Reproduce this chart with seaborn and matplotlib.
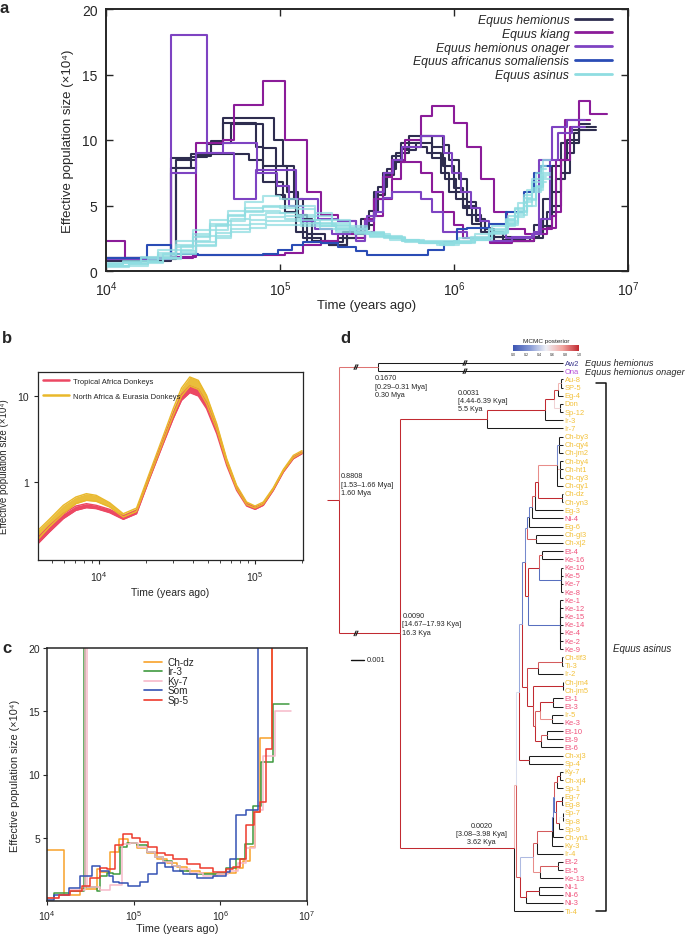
import numpy as np
import pandas as pd
import seaborn as sns
import matplotlib
matplotlib.use("Agg")
import matplotlib.pyplot as plt
from matplotlib.lines import Line2D
from matplotlib.collections import LineCollection
from matplotlib.colors import LinearSegmentedColormap, Normalize
from matplotlib.cm import ScalarMappable
from matplotlib.ticker import LogLocator, NullLocator, NullFormatter

# ---------------- Panel a data (log10 years ago; last time = end of line) ----------------
HEMIONUS_T = [
    [4.0, 4.376, 4.491, 4.606, 4.67, 4.964, 5.015, 5.079, 5.13, 5.182, 5.284, 5.386, 5.488, 5.54, 5.591, 5.642, 5.693, 5.808, 5.936, 5.974, 6.026, 6.077, 6.128, 6.179, 6.23, 6.333, 6.46, 6.512, 6.563, 6.614, 6.652, 6.716, 6.818],
    [4.0, 4.402, 4.517, 4.67, 4.824, 4.9, 4.977, 5.028, 5.092, 5.156, 5.284, 5.386, 5.488, 5.54, 5.591, 5.642, 5.693, 5.744, 5.872, 5.936, 6.0, 6.051, 6.128, 6.179, 6.281, 6.409, 6.486, 6.537, 6.588, 6.639, 6.691, 6.716, 6.78],
    [4.0, 4.376, 4.491, 4.581, 4.67, 4.862, 4.9, 4.977, 5.015, 5.092, 5.13, 5.233, 5.335, 5.437, 5.512, 5.566, 5.617, 5.668, 5.744, 5.847, 5.923, 5.974, 6.051, 6.102, 6.153, 6.23, 6.384, 6.46, 6.512, 6.563, 6.614, 6.665, 6.78],
    [4.0, 4.402, 4.517, 4.606, 4.721, 4.9, 4.977, 5.04, 5.105, 5.156, 5.258, 5.36, 5.463, 5.54, 5.604, 5.655, 5.719, 5.783, 5.872, 5.949, 6.013, 6.077, 6.153, 6.205, 6.307, 6.435, 6.512, 6.563, 6.614, 6.665, 6.716, 6.818],
]
HEMIONUS_NE = [
    [1.0, 8.6, 8.9, 9.9, 11.7, 10.0, 8.0, 5.5, 4.0, 2.3, 2.0, 2.8, 3.5, 5.5, 7.2, 8.8, 9.8, 10.3, 9.6, 8.5, 7.0, 5.3, 4.0, 3.2, 2.6, 2.3, 2.8, 4.0, 6.0, 8.5, 10.0, 11.0],
    [0.9, 7.9, 8.9, 8.9, 8.5, 6.8, 5.8, 4.5, 3.0, 2.2, 2.0, 2.5, 4.0, 6.0, 7.5, 8.5, 9.3, 10.3, 9.5, 8.0, 6.3, 5.0, 3.8, 3.0, 2.4, 2.6, 3.2, 4.5, 7.0, 9.0, 10.5, 11.2],
    [0.8, 7.9, 8.7, 9.7, 11.3, 9.5, 8.0, 6.8, 5.5, 4.1, 2.5, 2.1, 2.5, 3.2, 4.6, 6.4, 7.8, 9.0, 9.5, 9.0, 7.5, 6.0, 4.8, 3.6, 3.0, 2.3, 2.3, 3.5, 5.5, 8.0, 9.8, 10.8],
    [1.0, 8.5, 8.8, 9.8, 11.2, 9.4, 8.0, 6.0, 4.3, 2.8, 2.2, 3.0, 4.0, 5.8, 7.3, 8.3, 9.2, 9.8, 8.6, 7.0, 5.5, 4.3, 3.3, 2.6, 2.3, 2.5, 3.4, 5.0, 7.5, 9.8, 10.8],
]
KIANG_T = [
    [4.0, 4.107, 4.376, 4.517, 4.67, 4.734, 4.9, 5.028, 5.156, 5.233, 5.335, 5.437, 5.488, 5.54, 5.591, 5.642, 5.719, 5.808, 5.872, 6.0, 6.077, 6.153, 6.23, 6.307, 6.409, 6.486, 6.563, 6.588, 6.639, 6.716, 6.78, 6.882],
    [4.0, 4.376, 4.5, 4.734, 4.964, 5.028, 5.13, 5.233, 5.335, 5.437, 5.54, 5.591, 5.642, 5.693, 5.808, 5.872, 5.936, 6.0, 6.051, 6.205, 6.333, 6.46, 6.537, 6.588, 6.614, 6.665, 6.716, 6.78],
]
KIANG_NE = [
    [2.3, 1.0, 1.1, 9.8, 10.0, 12.7, 14.5, 10.0, 6.0, 4.3, 3.8, 2.5, 4.0, 5.5, 7.2, 8.5, 10.0, 11.8, 12.6, 11.3, 9.5, 7.0, 4.5, 3.2, 2.8, 3.2, 4.2, 8.5, 11.5, 13.0, 12.0],
    [0.9, 1.0, 1.2, 1.25, 1.2, 1.4, 2.0, 2.3, 2.8, 3.0, 4.2, 5.5, 7.0, 8.3, 7.5, 6.0, 4.5, 3.5, 2.5, 2.1, 2.3, 2.8, 3.3, 4.5, 8.5, 11.0, 11.5],
]
ONAGER_T = [
    [4.0, 4.376, 4.581, 4.734, 4.862, 5.092, 5.22, 5.335, 5.437, 5.488, 5.54, 5.591, 5.642, 5.808, 5.872, 5.936, 6.077, 6.205, 6.333, 6.46, 6.486, 6.563, 6.652, 6.75],
    [4.0, 4.376, 4.517, 4.67, 4.87, 4.98, 5.05, 5.13, 5.2, 5.3, 5.4, 5.5, 5.55, 5.6, 5.65, 5.7, 5.81, 5.94, 5.99, 6.04, 6.1, 6.15, 6.2, 6.3, 6.45, 6.5, 6.55, 6.6, 6.68, 6.75],
]
ONAGER_NE = [
    [1.0, 18.0, 9.0, 5.5, 7.7, 5.5, 4.0, 3.8, 2.3, 3.8, 4.5, 5.6, 6.0, 5.5, 4.5, 3.0, 2.5, 2.3, 2.6, 3.0, 8.5, 11.0, 11.5],
    [0.9, 7.5, 9.0, 9.8, 7.5, 6.5, 5.0, 3.8, 3.2, 2.8, 3.2, 4.2, 6.0, 7.5, 8.5, 9.5, 10.3, 9.0, 7.5, 6.0, 4.8, 3.8, 2.9, 2.5, 2.8, 4.0, 8.5, 10.5, 11.0],
]
SOMALI_T = [[4.0, 4.107, 4.235, 4.376, 4.53, 4.9, 4.99, 5.07, 5.13, 5.233, 5.335, 5.437, 5.5, 5.693, 5.85, 5.94, 6.02, 6.077, 6.2, 6.3, 6.4, 6.46, 6.5, 6.56]]
SOMALI_NE = [[1.0, 1.0, 2.0, 1.3, 1.25, 1.3, 1.6, 2.0, 2.2, 2.1, 1.8, 1.5, 1.2, 1.2, 1.6, 2.2, 3.2, 3.3, 3.6, 4.5, 6.0, 7.5, 8.0]]
ASINUS_GRID_1 = [4.0, 4.1, 4.2, 4.3, 4.4, 4.5, 4.6, 4.7, 4.8, 4.9, 5.0, 5.1, 5.2, 5.3, 5.4, 5.5, 5.6, 5.7, 5.8, 5.9, 6.0, 6.1, 6.2, 6.3, 6.35, 6.4, 6.45, 6.5, 6.53]
ASINUS_GRID_2 = [4.0, 4.13, 4.24, 4.33, 4.43, 4.52, 4.63, 4.72, 4.83, 4.92, 5.03, 5.12, 5.23, 5.32, 5.43, 5.52, 5.63, 5.72, 5.83, 5.92, 6.03, 6.12, 6.22, 6.31, 6.37, 6.42, 6.47, 6.51, 6.55]
ASINUS_NE = [
    [0.5, 0.6, 0.8, 1.2, 1.8, 2.6, 3.4, 4.2, 4.8, 5.0, 4.8, 4.3, 3.9, 3.5, 3.2, 2.9, 2.6, 2.4, 2.2, 2.2, 2.3, 2.6, 3.2, 4.0, 4.8, 5.8, 7.0, 8.0],
    [0.4, 0.5, 0.7, 1.0, 1.5, 2.2, 2.9, 3.5, 3.9, 4.1, 4.0, 3.7, 3.4, 3.1, 2.9, 2.7, 2.5, 2.3, 2.1, 2.1, 2.2, 2.5, 3.0, 3.7, 4.5, 5.5, 6.5, 7.5],
    [0.6, 0.8, 1.1, 1.6, 2.3, 3.1, 3.9, 4.6, 5.3, 5.7, 5.5, 5.0, 4.4, 3.9, 3.4, 3.0, 2.7, 2.4, 2.2, 2.1, 2.2, 2.4, 2.9, 3.6, 4.4, 5.3, 6.3, 7.2],
    [0.3, 0.4, 0.6, 0.9, 1.3, 1.9, 2.5, 3.0, 3.3, 3.5, 3.5, 3.4, 3.2, 3.0, 2.8, 2.6, 2.4, 2.2, 2.1, 2.0, 2.1, 2.4, 2.9, 3.5, 4.3, 5.0, 6.2, 7.0],
    [0.5, 0.7, 1.0, 1.4, 2.0, 2.8, 3.6, 4.3, 4.6, 4.6, 4.4, 4.1, 3.7, 3.4, 3.1, 2.8, 2.5, 2.3, 2.1, 2.0, 2.1, 2.4, 2.8, 3.4, 4.1, 5.0, 6.0, 6.8],
    [0.4, 0.6, 0.9, 1.3, 1.9, 2.7, 3.5, 4.0, 4.3, 4.4, 4.2, 3.9, 3.6, 3.3, 3.0, 2.8, 2.6, 2.4, 2.3, 2.3, 2.5, 2.8, 3.4, 4.2, 5.2, 6.2, 7.5, 8.5],
    [0.5, 0.6, 0.8, 1.1, 1.6, 2.3, 3.1, 3.8, 4.5, 4.9, 5.0, 4.7, 4.2, 3.7, 3.3, 2.9, 2.6, 2.3, 2.1, 2.1, 2.2, 2.5, 3.1, 3.9, 4.7, 5.6, 6.8, 7.8],
    [0.4, 0.5, 0.7, 1.0, 1.4, 2.0, 2.7, 3.2, 3.6, 3.8, 3.8, 3.6, 3.4, 3.2, 3.0, 2.7, 2.5, 2.3, 2.2, 2.1, 2.2, 2.5, 3.0, 3.8, 4.6, 5.4, 6.4, 7.3],
]
SPECIES = ["Equus hemionus", "Equus kiang", "Equus hemionus onager",
           "Equus africanus somaliensis", "Equus asinus"]
SPECIES_COLORS = ["#2e2d4f", "#8b1c99", "#7e43c2", "#2a4cb5", "#8fdde1"]

# ---------------- Panel b data (years ago, Ne x10^4) ----------------
B_TIME = [4000, 4800, 5900, 7100, 8300, 9600, 11700, 14300, 17400, 21100, 25800, 29900, 33800,
          38200, 43300, 48900, 56800, 65800, 76200, 88300, 100000, 113000, 131000, 152000, 176000, 200000]
TROP_LO = [0.187, 0.262, 0.375, 0.468, 0.503, 0.490, 0.440, 0.368, 0.428, 1.093, 2.79, 5.45, 8.91,
           10.94, 10.0, 7.12, 3.65, 1.56, 0.800, 0.526, 0.481, 0.536, 0.800, 1.307, 1.867, 2.135]
TROP_HI = [0.219, 0.308, 0.428, 0.526, 0.560, 0.536, 0.481, 0.402, 0.468, 1.195, 3.13, 6.23, 10.36,
           13.07, 11.95, 8.37, 4.17, 1.74, 0.875, 0.560, 0.507, 0.560, 0.837, 1.367, 1.953, 2.233]
NAE_LO = [0.210, 0.300, 0.428, 0.560, 0.612, 0.596, 0.512, 0.392, 0.456, 1.143, 2.97, 5.96, 10.0,
          13.07, 11.95, 8.15, 4.10, 1.68, 0.837, 0.545, 0.498, 0.555, 0.822, 1.342, 1.919, 2.193]
NAE_HI = [0.267, 0.368, 0.536, 0.669, 0.732, 0.700, 0.575, 0.428, 0.498, 1.284, 3.43, 7.12, 12.39,
          16.63, 15.21, 10.18, 4.77, 1.87, 0.915, 0.586, 0.526, 0.586, 0.859, 1.404, 2.042, 2.314]
B_LABELS = ["Tropical Africa Donkeys", "North Africa & Eurasia Donkeys"]
B_COLORS = ["#ec4863", "#e9b82a"]

# ---------------- Panel c data (log10 years ago; last time = end) ----------------
C_NAMES = ["Ch-dz", "Ir-3", "Ky-7", "Som", "Sp-5"]
C_COLORS = ["#f8a22a", "#3f9a3f", "#f6b9c9", "#3452b4", "#ee3a2c"]
C_T = [
    [4.0, 4.199, 4.384, 4.575, 4.614, 4.729, 4.825, 4.94, 5.036, 5.151, 5.266, 5.381, 5.496, 5.611, 5.764, 5.918, 6.071, 6.186, 6.263, 6.34, 6.397, 6.463, 6.601, 6.64],
    [4.0, 4.077, 4.269, 4.422, 4.441, 4.575, 4.614, 4.69, 4.767, 4.844, 4.921, 5.036, 5.151, 5.247, 5.343, 5.438, 5.534, 5.649, 5.803, 5.956, 6.071, 6.186, 6.282, 6.378, 6.474, 6.608, 6.792],
    [4.0, 4.134, 4.269, 4.441, 4.46, 4.614, 4.729, 4.863, 4.959, 5.055, 5.151, 5.247, 5.343, 5.438, 5.534, 5.649, 5.803, 5.956, 6.09, 6.205, 6.301, 6.397, 6.493, 6.628, 6.819],
    [4.0, 4.077, 4.249, 4.384, 4.518, 4.614, 4.71, 4.767, 4.825, 4.94, 5.074, 5.17, 5.266, 5.362, 5.458, 5.573, 5.726, 5.918, 6.071, 6.11, 6.186, 6.301, 6.436, 6.6],
    [4.0, 4.134, 4.269, 4.403, 4.499, 4.614, 4.69, 4.786, 4.882, 4.978, 5.074, 5.17, 5.266, 5.362, 5.458, 5.611, 5.764, 5.918, 6.071, 6.148, 6.225, 6.301, 6.386, 6.455, 6.532, 6.601, 6.7],
]
C_NE = [
    [4.05, 0.47, 0.95, 2.5, 2.3, 3.9, 4.9, 4.6, 4.2, 3.8, 3.3, 3.0, 2.7, 2.4, 2.2, 2.1, 2.2, 2.6, 3.2, 4.3, 7.0, 12.9, 25.0],
    [0.2, 0.6, 0.8, 60.0, 1.1, 0.8, 2.0, 2.2, 2.1, 4.3, 4.6, 4.4, 3.9, 3.5, 3.2, 2.8, 2.4, 2.1, 2.1, 2.2, 2.6, 3.3, 4.5, 7.5, 11.0, 15.6],
    [0.2, 0.5, 0.9, 60.0, 1.1, 0.9, 1.3, 4.5, 4.6, 4.3, 3.9, 3.5, 3.1, 2.8, 2.5, 2.2, 2.0, 2.1, 2.4, 3.0, 4.2, 7.2, 11.5, 15.0],
    [0.1, 0.5, 1.0, 2.0, 2.8, 2.4, 2.0, 1.5, 1.4, 1.2, 1.5, 2.1, 3.0, 2.7, 2.4, 2.1, 1.8, 2.0, 2.3, 3.3, 6.8, 7.2, 60.0],
    [0.2, 0.5, 0.8, 1.2, 1.8, 2.6, 2.5, 4.4, 5.3, 5.0, 4.7, 4.3, 3.8, 3.6, 3.3, 2.9, 2.6, 2.3, 2.5, 2.7, 3.3, 6.0, 7.0, 7.8, 12.0, 60.0],
]

# ---------------- Panel d data: tree (node = (x, posterior, children[, name])) ----------------
TIP_X = 563
TREE = (339, 1.0, [
    (378, 0.85, ["Aw2", "Ona"], "hem"),
    (400, 1.0, [
        (487, 1.0, [
            (545, 1.0, [
                (554, 1.0, [
                    (558, 0.95, [(561, 0.7, ["Au-8", "SP-5"]), "Eg-4"]),
                    (560, 0.6, ["Don", "Sp-12"])]),
                "Ir-3"]),
            "Ir-7"], "n1"),
        (514, 1.0, [
            (516, 0.7, [
                (519, 0.45, [
                    (522, 0.3, [
                        (525, 0.15, [
                            (527, 0.2, [
                                (529, 0.1, [
                                    (532, 0.15, [
                                        (535, 0.9, [
                                            (538, 1.0, [
                                                (557, 0.8, [(559, 0.2, ["Ch-by3", "Ch-qy4", "Ch-jm2"]),
                                                            (560, 0.7, ["Ch-by4", "Ch-ht1", "Ch-qy3"]), "Ch-qy1"]),
                                                (562, 1.0, ["Ch-dz", "Ch-yn3"])]),
                                            "Eg-3"]),
                                        "Ni-4"]),
                                    "Eg-6"]),
                                (536, 0.9, ["Ch-gl3", "Ch-xj2"])]),
                            (528, 1.0, [
                                (539, 1.0, [(542, 0.9, ["Et-4", "Ke-16"]),
                                            (561, 0.1, ["Ke-10", "Ke-5", "Ke-7", "Ke-8"])]),
                                (560, 0.1, ["Ke-1", "Ke-12", "Ke-15", "Ke-14", "Ke-4", "Ke-2", "Ke-9"])])]),
                        (527, 1.0, [
                            (538, 0.95, [(562, 0.9, ["Ch-tlf3", "Ti-3"]), "Ir-2"]),
                            (533, 1.0, [
                                (563, 1.0, ["Ch-jm4", "Ch-jm5"]),
                                (535, 0.95, [
                                    (540, 0.9, [(553, 1.0, ["Et-1", "Et-3"]), (552, 0.8, ["Ir-5", "Ke-3"])]),
                                    (541, 1.0, [(547, 0.9, ["Et-10", "Et-9"]), "Et-6"])])])])]),
                    (529, 1.0, ["Ch-xj3", "Sp-4"])]),
                (520, 0.9, [
                    (533, 0.35, [
                        (537, 0.9, [
                            (552, 0.9, [
                                (553, 0.1, [
                                    (554, 0.15, [
                                        (557, 0.9, [(560, 1.0, ["Ky-7", "Ch-xj4"]), "Sp-1"]),
                                        (556, 0.1, [(562, 1.0, ["Eg-7", "Eg-8"]),
                                                    (559, 0.95, [(563, 0.5, ["Sp-7", "Sp-8"]), "Sp-9"])])]),
                                    "Ch-yn1"]),
                                "Ky-3"]),
                            "Ir-4"]),
                        (540, 0.8, [(558, 0.9, ["Et-2", "Et-5"]), "Ke-13"])]),
                    (526, 1.0, [(539, 1.0, ["Ni-1", "Ni-6"]), "Ni-3"])])]),
            "Ti-4"], "n2")], "asi")], "root")
PINK_TAXA = ["Ni-4", "Et-4", "Ke-16", "Ke-10", "Ke-5", "Ke-7", "Ke-8", "Ke-1", "Ke-12", "Ke-15",
             "Ke-14", "Ke-4", "Ke-2", "Ke-9", "Et-1", "Et-3", "Ke-3", "Et-10", "Et-9", "Et-6",
             "Et-2", "Et-5", "Ke-13", "Ni-1", "Ni-6", "Ni-3"]
SPECIAL_TAXA = {"Aw2": "#3c3a8e", "Ona": "#b64fd8"}
NODE_NOTES = {
    "root": "0.8808\n[1.53\u20131.66 Mya]\n1.60 Mya",
    "hem": "0.1670\n[0.29\u20130.31 Mya]\n0.30 Mya",
    "asi": "0.0090\n[14.67\u201317.93 Kya]\n16.3 Kya",
    "n1": "0.0031\n[4.44-6.39 Kya]\n5.5 Kya",
    "n2": "0.0020\n[3.08\u20133.98 Kya]\n3.62 Kya",
}

# ---------------- style ----------------
sns.set_style("ticks")
plt.rcParams["font.family"] = ["Liberation Sans", "DejaVu Sans"]
plt.rcParams["mathtext.fontset"] = "custom"
plt.rcParams["mathtext.rm"] = "Liberation Sans"
plt.rcParams["mathtext.it"] = "Liberation Sans:italic"
plt.rcParams["mathtext.bf"] = "Liberation Sans:bold"

W, H = 690, 937
fig = plt.figure(figsize=(W / 100, H / 100), dpi=100)


def px_axes(l, t, r, b):
    return fig.add_axes([l / W, 1 - b / H, (r - l) / W, (b - t) / H])


def step_line(ax, tlog, ne, color, lw, alpha=1.0):
    x = 10 ** np.asarray(tlog, dtype=float)
    y = list(ne) + [ne[-1]]
    sns.lineplot(x=x, y=y, drawstyle="steps-post", color=color, lw=lw, alpha=alpha,
                 estimator=None, sort=False, ax=ax)


YLAB = "Effective population size (\u00d710\u2074)"

# ---------------- Panel a ----------------
ax_a = px_axes(106, 10, 628, 272)
groups = [(HEMIONUS_T, HEMIONUS_NE), (KIANG_T, KIANG_NE), (ONAGER_T, ONAGER_NE), (SOMALI_T, SOMALI_NE)]
for (ts, nes), col in zip(groups, SPECIES_COLORS[:4]):
    for t, n in zip(ts, nes):
        step_line(ax_a, t, n, col, 1.5)
for i, n in enumerate(ASINUS_NE):
    grid = ASINUS_GRID_1 if i % 2 == 0 else ASINUS_GRID_2
    step_line(ax_a, grid, n, SPECIES_COLORS[4], 1.5, alpha=0.75)
ax_a.set_xscale("log")
ax_a.set_xlim(1e4, 1e7)
ax_a.set_ylim(0, 20)
ax_a.set_yticks([0, 5, 10, 15, 20])
ax_a.xaxis.set_minor_locator(NullLocator())
ax_a.tick_params(direction="in", top=True, right=True, length=5, width=1.0, labelsize=10)
ax_a.tick_params(axis="x", pad=6)
ax_a.tick_params(axis="y", pad=6)
for s in ax_a.spines.values():
    s.set_linewidth(1.4)
ax_a.set_xlabel("Time (years ago)", fontsize=9.5, labelpad=1)
ax_a.set_ylabel(YLAB, fontsize=9.5, labelpad=6)
handles = [Line2D([], [], color=c, lw=2) for c in SPECIES_COLORS]
ax_a.legend(handles, SPECIES, loc="upper right", bbox_to_anchor=(0.979, 1.0), frameon=False,
            markerfirst=False, prop={"style": "italic", "size": 8.8}, handlelength=3.0,
            labelspacing=0.15, borderaxespad=0.1, borderpad=0.3, handletextpad=0.5)

# ---------------- Panel b ----------------
ax_b = px_axes(38, 373, 303, 561)
ax_b.fill_between(B_TIME, TROP_LO, TROP_HI, color=B_COLORS[0], lw=0)
sns.lineplot(x=B_TIME, y=TROP_LO, color=B_COLORS[0], lw=1.0, ax=ax_b)
sns.lineplot(x=B_TIME, y=TROP_HI, color=B_COLORS[0], lw=1.0, ax=ax_b)
ax_b.fill_between(B_TIME, NAE_LO, NAE_HI, color=B_COLORS[1], lw=0, alpha=0.92)
sns.lineplot(x=B_TIME, y=NAE_LO, color=B_COLORS[1], lw=1.0, ax=ax_b)
sns.lineplot(x=B_TIME, y=NAE_HI, color=B_COLORS[1], lw=1.0, ax=ax_b)
ax_b.set_xscale("log")
ax_b.set_yscale("log")
ax_b.set_xlim(4065, 203000)
ax_b.set_ylim(0.124, 19)
ax_b.set_yticks([1, 10])
ax_b.set_yticklabels(["1", "10"])
ax_b.yaxis.set_minor_locator(NullLocator())
ax_b.xaxis.set_minor_locator(LogLocator(subs=[2, 3, 4, 5, 6, 7, 8, 9]))
ax_b.xaxis.set_minor_formatter(NullFormatter())
ax_b.tick_params(which="major", length=3, width=0.8, labelsize=7.5)
ax_b.tick_params(which="minor", length=2, width=0.6)
for s in ax_b.spines.values():
    s.set_linewidth(0.9)
ax_b.set_xlabel("Time (years ago)", fontsize=7.5, labelpad=3)
ax_b.set_ylabel(YLAB, fontsize=7, labelpad=6)
hb = [Line2D([], [], color=c, lw=1.8) for c in B_COLORS]
ax_b.legend(hb, B_LABELS, loc="upper left", frameon=False, fontsize=5.5, handlelength=3.3,
            labelspacing=1.0, borderaxespad=0.3, handletextpad=0.6)

# ---------------- Panel c ----------------
ax_c = px_axes(47, 649, 307, 902)
for t, n, col in zip(C_T, C_NE, C_COLORS):
    step_line(ax_c, t, n, col, 1.1)
ax_c.set_xscale("log")
ax_c.set_xlim(1e4, 1e7)
ax_c.set_ylim(0, 20)
ax_c.set_yticks([5, 10, 15, 20])
ax_c.xaxis.set_minor_locator(NullLocator())
ax_c.tick_params(length=3, width=0.8, labelsize=7.5, pad=2)
for s in ax_c.spines.values():
    s.set_linewidth(1.1)
ax_c.set_xlabel("Time (years ago)", fontsize=7.8, labelpad=1)
ax_c.set_ylabel(YLAB, fontsize=7.8, labelpad=6)
hc = [Line2D([], [], color=c, lw=1.2) for c in C_COLORS]
ax_c.legend(hc, C_NAMES, loc="upper center", frameon=False, fontsize=7.2, handlelength=1.8,
            labelspacing=-0.05, borderaxespad=0.5, handletextpad=0.5, bbox_to_anchor=(0.47, 1.0))

# ---------------- Panel d ----------------
ax_d = px_axes(325, 330, 690, 937)
LEAF_DY = 8.18
ax_d.set_xlim(325, 690)
ax_d.set_ylim((937 - 364) / LEAF_DY, (330 - 364) / LEAF_DY)
ax_d.axis("off")
CMAP = LinearSegmentedColormap.from_list(
    "post", ["#3c55b2", "#8497d4", "#eef0f6", "#f2a6a0", "#c12a31"])

order, segs, cols, named = [], [], [], {}


def draw(node):
    if isinstance(node, str):
        y = len(order)
        order.append(node)
        return TIP_X, y, None
    x, p, kids = node[0], node[1], node[2]
    res = [draw(k) for k in kids]
    y = (res[0][1] + res[-1][1]) / 2
    for cx, cy, cp in res:
        col = "#1c1c1c" if cp is None else CMAP(cp)
        segs.append([(x, y), (x, cy)]); cols.append(col)
        segs.append([(x, cy), (cx, cy)]); cols.append(col)
    if len(node) > 3:
        named[node[3]] = (x, y)
    return x, y, p


rx, ry, rp = draw(TREE)
segs.append([(327, ry), (rx, ry)]); cols.append(CMAP(rp))
ax_d.add_collection(LineCollection(segs, colors=cols, linewidths=0.75))

for i, name in enumerate(order):
    col = SPECIAL_TAXA.get(name, "#f0507a" if name in PINK_TAXA else "#f3c13a")
    ax_d.text(TIP_X + 1.5, i, name, fontsize=5.4, color=col, va="center", ha="left")

# break marks on long branches
hx, hy = named["hem"]
ax_x, ax_y = named["asi"]
for bx, by in [(356, hy), (356, ax_y), (465, 0), (465, 1)]:
    for off in (-0.9, 0.9):
        ax_d.plot([bx + off - 1.0, bx + off + 1.0], [by + 0.28, by - 0.28], color="#222222", lw=0.9)

fs_note = 5.2
x0, y0 = named["root"]
ax_d.text(x0 + 2, y0 - 3.4, NODE_NOTES["root"], fontsize=fs_note, va="top", ha="left", linespacing=1.25)
ax_d.text(hx - 3, hy + 0.9, NODE_NOTES["hem"], fontsize=fs_note, va="top", ha="left", linespacing=1.25)
ax_d.text(ax_x + 2.5, ax_y - 2.6, NODE_NOTES["asi"], fontsize=fs_note, va="top", ha="left", linespacing=1.25)
n1x, n1y = named["n1"]
ax_d.text(n1x - 29, n1y - 0.8, NODE_NOTES["n1"], fontsize=fs_note, va="bottom", ha="left",
          linespacing=1.25)
n2x, n2y = named["n2"]
ax_d.text(n2x - 7, n2y - 0.3, NODE_NOTES["n2"], fontsize=fs_note, va="bottom", ha="right",
          multialignment="center", linespacing=1.25)

# scale bar
ax_d.plot([351, 364], [36.3, 36.3], color="#111111", lw=1.0)
ax_d.text(367, 36.3, "0.001", fontsize=5.4, va="center", ha="left")

# species labels and bracket
ax_d.text(585, -0.05, "Equus hemionus", fontsize=6.6, style="italic", va="center", ha="left")
ax_d.text(585, 1.05, "Equus hemionus onager", fontsize=6.6, style="italic", va="center", ha="left")
ax_d.plot([596, 606, 606, 596], [2.4, 2.4, 67.0, 67.0], color="#111111", lw=1.1)
ax_d.text(613, 34.8, "Equus asinus", fontsize=7, style="italic", va="center", ha="left")

# colorbar
cax = px_axes(513, 346, 579, 352)
sm = ScalarMappable(norm=Normalize(0, 1), cmap=CMAP)
cb = fig.colorbar(sm, cax=cax, orientation="horizontal", ticks=[0, 0.2, 0.4, 0.6, 0.8, 1.0])
cb.outline.set_visible(False)
cb.ax.tick_params(labelsize=2.6, length=0, pad=1)
cb.ax.set_xticklabels(["0.0", "0.2", "0.4", "0.6", "0.8", "1.0"])
fig.text(546 / W, 1 - 341 / H, "MCMC posterior", fontsize=4.6, ha="center", va="center")

# panel letters
fig.text(0.0, 1 - 1 / H, "a", fontsize=12, weight="bold", va="top", ha="left")
fig.text(0.003, 1 - 331 / H, "b", fontsize=12, weight="bold", va="top", ha="left")
fig.text(0.003, 1 - 641 / H, "c", fontsize=12, weight="bold", va="top", ha="left")
fig.text(340 / W, 1 - 331 / H, "d", fontsize=12, weight="bold", va="top", ha="left")

fig.savefig("out.png", dpi=100)
